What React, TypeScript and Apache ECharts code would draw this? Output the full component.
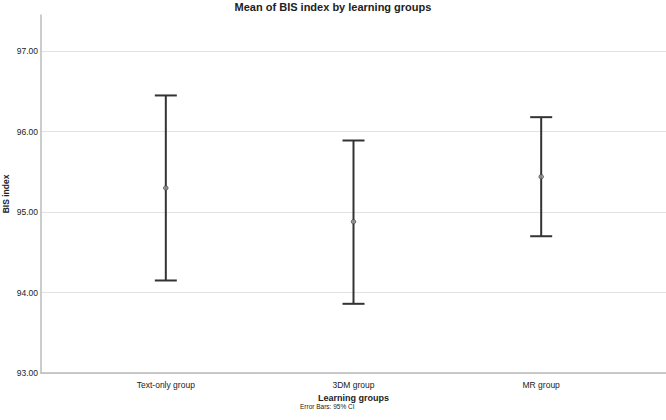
import React, { useEffect, useRef } from "react";
import * as echarts from "echarts";

const categories = ["Text-only group", "3DM group", "MR group"];
const means = [95.3, 94.88, 95.44];
const lower = [94.15, 93.86, 94.7];
const upper = [96.45, 95.89, 96.18];
const yTicks = [93, 94, 95, 96, 97];

const FONT = "Liberation Sans, Arial, sans-serif";

export default function App() {
  const ref = useRef<HTMLDivElement>(null);
  useEffect(() => {
    if (!ref.current) return;
    const chart = echarts.init(ref.current, null, { renderer: "svg" });
    const positions = categories.map((_, i) => i + 1);
    chart.setOption({
      animation: false,
      textStyle: { fontFamily: FONT },
      title: {
        text: "Mean of BIS index by learning groups",
        left: "center",
        top: 0,
        padding: [1, 0, 0, 0],
        textStyle: { fontSize: 11, fontWeight: "bold", color: "#222", fontFamily: FONT },
      },
      grid: {
        left: 41,
        right: 0,
        top: 15,
        bottom: 47,
        containLabel: false,
        outerBoundsMode: "none",
      },
      xAxis: {
        type: "value",
        min: 0.335,
        max: 3.665,
        name: "Learning groups",
        nameLocation: "middle",
        nameGap: 16,
        nameTextStyle: { fontSize: 9, fontWeight: "bold", color: "#222" },
        axisLine: { show: true, lineStyle: { color: "#bbb", width: 1.5 } },
        axisTick: { show: false },
        splitLine: { show: false },
        axisLabel: {
          customValues: positions,
          formatter: (v: number) => categories[Math.round(v) - 1] ?? "",
          fontSize: 8.5,
          color: "#222",
          margin: 7,
        },
      },
      yAxis: {
        type: "value",
        min: yTicks[0],
        max: 97.45,
        interval: 1,
        axisLine: { show: true, lineStyle: { color: "#bbb", width: 1.5 } },
        axisTick: { show: false },
        splitLine: { show: true, showMaxLine: false, lineStyle: { color: "#e2e2e2", width: 1 } },
        axisLabel: {
          formatter: (v: number) => v.toFixed(2),
          showMaxLabel: false,
          fontSize: 8.5,
          color: "#222",
          margin: 3,
        },
      },
      graphic: [
        {
          type: "text",
          x: 6,
          y: 194,
          rotation: Math.PI / 2,
          style: {
            text: "BIS index",
            fontSize: 8.5,
            fontWeight: "bold",
            fill: "#222",
            fontFamily: FONT,
            align: "center",
            verticalAlign: "middle",
          },
        },
        {
          type: "text",
          left: 300,
          top: 403,
          style: { text: "Error Bars: 95% CI", fontSize: 6.5, fill: "#222", fontFamily: FONT },
        },
      ],
      series: [
        {
          type: "custom",
          data: positions.map((p, i) => [p, lower[i], upper[i]]),
          encode: { x: 0, y: [1, 2] },
          renderItem: (params: any, api: any) => {
            const x = api.value(0);
            const lo = api.coord([x, api.value(1)]);
            const hi = api.coord([x, api.value(2)]);
            const hw = 11;
            const style = { stroke: "#333", lineWidth: 2 };
            return {
              type: "group",
              children: [
                { type: "line", shape: { x1: lo[0], y1: lo[1], x2: hi[0], y2: hi[1] }, style },
                { type: "line", shape: { x1: hi[0] - hw, y1: hi[1], x2: hi[0] + hw, y2: hi[1] }, style },
                { type: "line", shape: { x1: lo[0] - hw, y1: lo[1], x2: lo[0] + hw, y2: lo[1] }, style },
              ],
            };
          },
          z: 2,
        },
        {
          type: "scatter",
          data: positions.map((p, i) => [p, means[i]]),
          symbol: "circle",
          symbolSize: 4.5,
          itemStyle: { color: "#999", borderColor: "#444", borderWidth: 1 },
          z: 3,
        },
      ],
    });
    return () => chart.dispose();
  }, []);
  return (
    <div
      ref={ref}
      style={{ position: "fixed", left: 0, top: 0, width: 666, height: 420, background: "#fff" }}
    />
  );
}
